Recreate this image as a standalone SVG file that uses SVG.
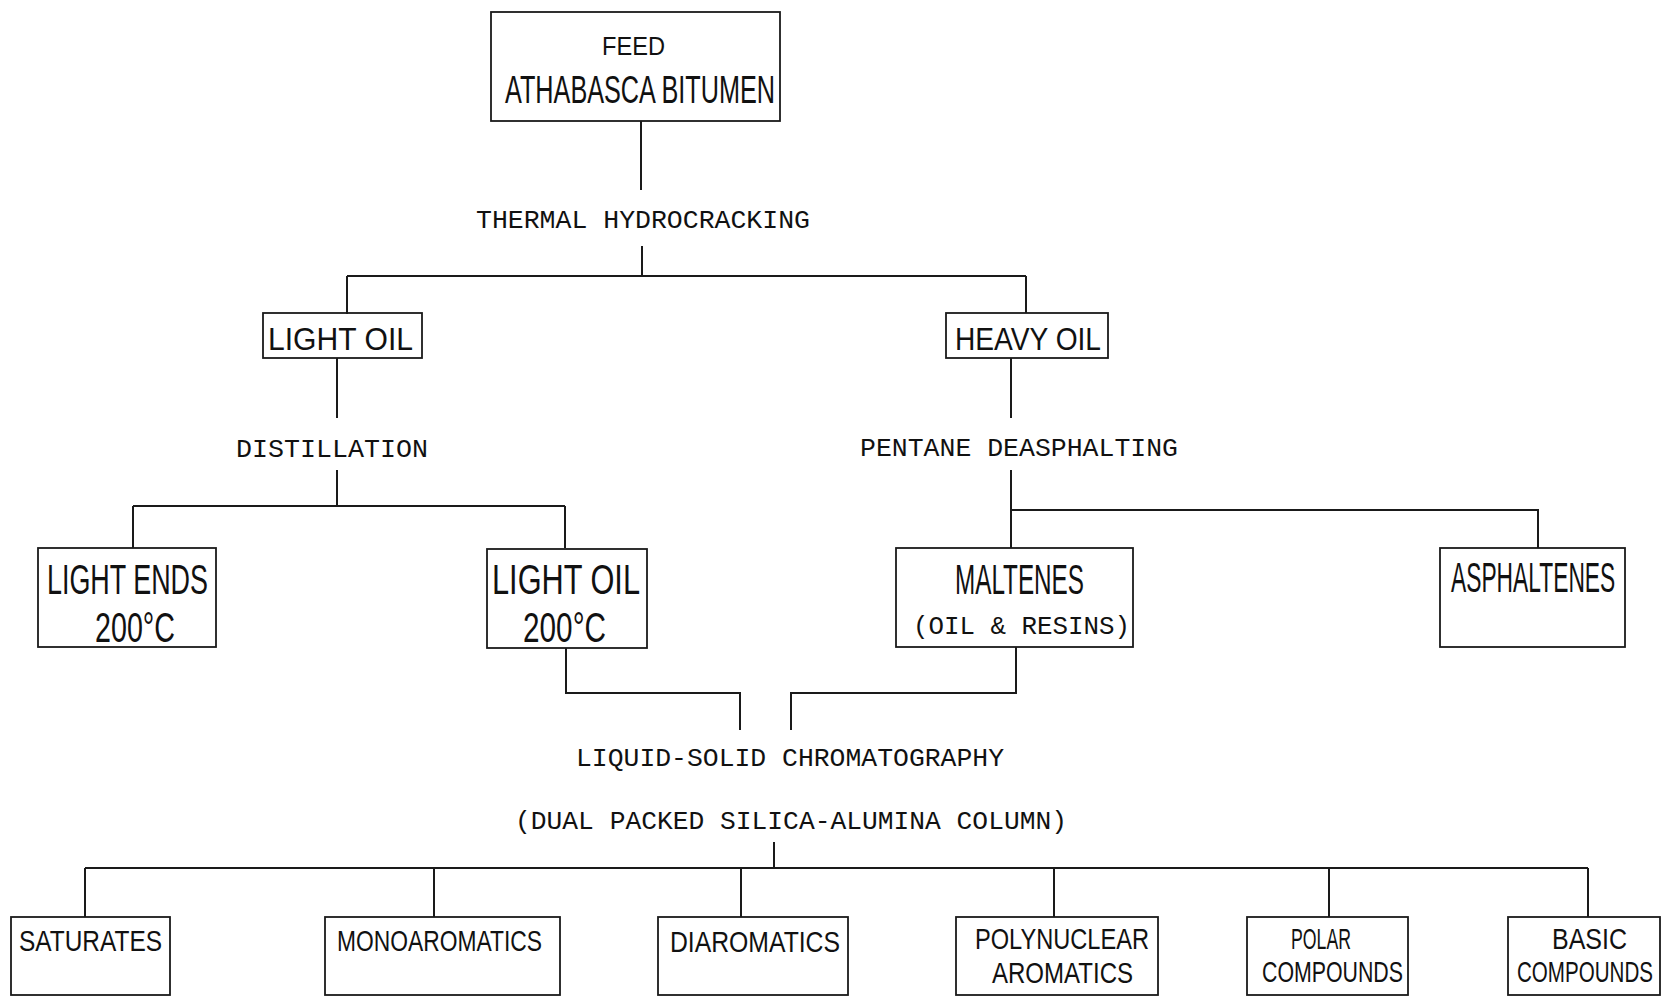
<svg xmlns="http://www.w3.org/2000/svg" width="1663" height="1002" viewBox="0 0 1663 1002">
<style>
.bg{fill:#ffffff}
.box{fill:none;stroke:#1a1a1a;stroke-width:1.8}
.ln{fill:none;stroke:#1a1a1a;stroke-width:2}
.bt{font-family:"Liberation Sans",Arial,sans-serif;fill:#111;text-anchor:start}
.mt{font-family:"Liberation Mono","Courier New",monospace;fill:#111;font-size:25px;text-anchor:start}
</style>
<rect class="bg" x="0" y="0" width="1663" height="1002"/>
<g id="connectors">
<path class="ln" d="M641 121V190"/>
<path class="ln" d="M642 246V276M347 276H1026M347 276V314M1026 276V313"/>
<path class="ln" d="M337 358V418"/>
<path class="ln" d="M337 470V506M133 506H565M133 506V548M565 506V548"/>
<path class="ln" d="M1011 358V418"/>
<path class="ln" d="M1011 470V548M1011 510H1538V548"/>
<path class="ln" d="M566 648V693H740V730"/>
<path class="ln" d="M1016 647V693H791V730"/>
<path class="ln" d="M774 842V868M85 868H1588M85 868V917M434 868V917M741 868V917M1054 868V917M1329 868V917M1588 868V917"/>
</g>
<g id="feed">
<rect class="box" x="491" y="12" width="289" height="109"/>
<text class="bt" x="602" y="55" font-size="25" textLength="63" lengthAdjust="spacingAndGlyphs">FEED</text>
<text class="bt" x="505" y="103" font-size="38" textLength="270" lengthAdjust="spacingAndGlyphs">ATHABASCA BITUMEN</text>
</g>
<g id="thermal-hydrocracking"><text class="mt" x="476" y="228" textLength="334" lengthAdjust="spacingAndGlyphs">THERMAL HYDROCRACKING</text></g>
<g id="light-oil">
<rect class="box" x="263" y="313" width="159" height="45"/>
<text class="bt" x="268" y="350" font-size="31" textLength="145" lengthAdjust="spacingAndGlyphs">LIGHT OIL</text>
</g>
<g id="heavy-oil">
<rect class="box" x="946" y="313" width="162" height="45"/>
<text class="bt" x="955" y="350" font-size="31" textLength="146" lengthAdjust="spacingAndGlyphs">HEAVY OIL</text>
</g>
<g id="distillation"><text class="mt" x="236" y="457" textLength="192" lengthAdjust="spacingAndGlyphs">DISTILLATION</text></g>
<g id="pentane-deasphalting"><text class="mt" x="860" y="456" textLength="318" lengthAdjust="spacingAndGlyphs">PENTANE DEASPHALTING</text></g>
<g id="light-ends">
<rect class="box" x="38" y="548" width="178" height="99"/>
<text class="bt" x="47" y="594" font-size="42" textLength="161" lengthAdjust="spacingAndGlyphs">LIGHT ENDS</text>
<text class="bt" x="95" y="642" font-size="42" textLength="80" lengthAdjust="spacingAndGlyphs">200°C</text>
</g>
<g id="light-oil-200">
<rect class="box" x="487" y="549" width="160" height="99"/>
<text class="bt" x="492" y="594" font-size="42" textLength="148" lengthAdjust="spacingAndGlyphs">LIGHT OIL</text>
<text class="bt" x="523" y="642" font-size="42" textLength="83" lengthAdjust="spacingAndGlyphs">200°C</text>
</g>
<g id="maltenes">
<rect class="box" x="896" y="548" width="237" height="99"/>
<text class="bt" x="955" y="594" font-size="42" textLength="129" lengthAdjust="spacingAndGlyphs">MALTENES</text>
<text class="mt" x="913" y="634" textLength="217" lengthAdjust="spacingAndGlyphs">(OIL &amp; RESINS)</text>
</g>
<g id="asphaltenes">
<rect class="box" x="1440" y="548" width="185" height="99"/>
<text class="bt" x="0" y="0" font-size="42" transform="translate(1451 592) scale(0.543 1)">ASPHALTENES</text>
</g>
<g id="chromatography">
<text class="mt" x="576" y="766" textLength="428" lengthAdjust="spacingAndGlyphs">LIQUID-SOLID CHROMATOGRAPHY</text>
<text class="mt" x="515" y="829" textLength="552" lengthAdjust="spacingAndGlyphs">(DUAL PACKED SILICA-ALUMINA COLUMN)</text>
</g>
<g id="saturates">
<rect class="box" x="11" y="917" width="159" height="78"/>
<text class="bt" x="19" y="951" font-size="30" textLength="143" lengthAdjust="spacingAndGlyphs">SATURATES</text>
</g>
<g id="monoaromatics">
<rect class="box" x="325" y="917" width="235" height="78"/>
<text class="bt" x="337" y="951" font-size="30" textLength="205" lengthAdjust="spacingAndGlyphs">MONOAROMATICS</text>
</g>
<g id="diaromatics">
<rect class="box" x="658" y="917" width="190" height="78"/>
<text class="bt" x="670" y="952" font-size="30" textLength="170" lengthAdjust="spacingAndGlyphs">DIAROMATICS</text>
</g>
<g id="polynuclear-aromatics">
<rect class="box" x="956" y="917" width="202" height="78"/>
<text class="bt" x="975" y="949" font-size="30" textLength="174" lengthAdjust="spacingAndGlyphs">POLYNUCLEAR</text>
<text class="bt" x="992" y="983" font-size="30" textLength="141" lengthAdjust="spacingAndGlyphs">AROMATICS</text>
</g>
<g id="polar-compounds">
<rect class="box" x="1247" y="917" width="161" height="78"/>
<text class="bt" x="1291" y="949" font-size="30" textLength="60" lengthAdjust="spacingAndGlyphs">POLAR</text>
<text class="bt" x="1262" y="982" font-size="30" textLength="141" lengthAdjust="spacingAndGlyphs">COMPOUNDS</text>
</g>
<g id="basic-compounds">
<rect class="box" x="1508" y="917" width="152" height="78"/>
<text class="bt" x="1552" y="949" font-size="30" textLength="75" lengthAdjust="spacingAndGlyphs">BASIC</text>
<text class="bt" x="0" y="0" font-size="30" transform="translate(1517 982) scale(0.686 1)">COMPOUNDS</text>
</g>
</svg>
